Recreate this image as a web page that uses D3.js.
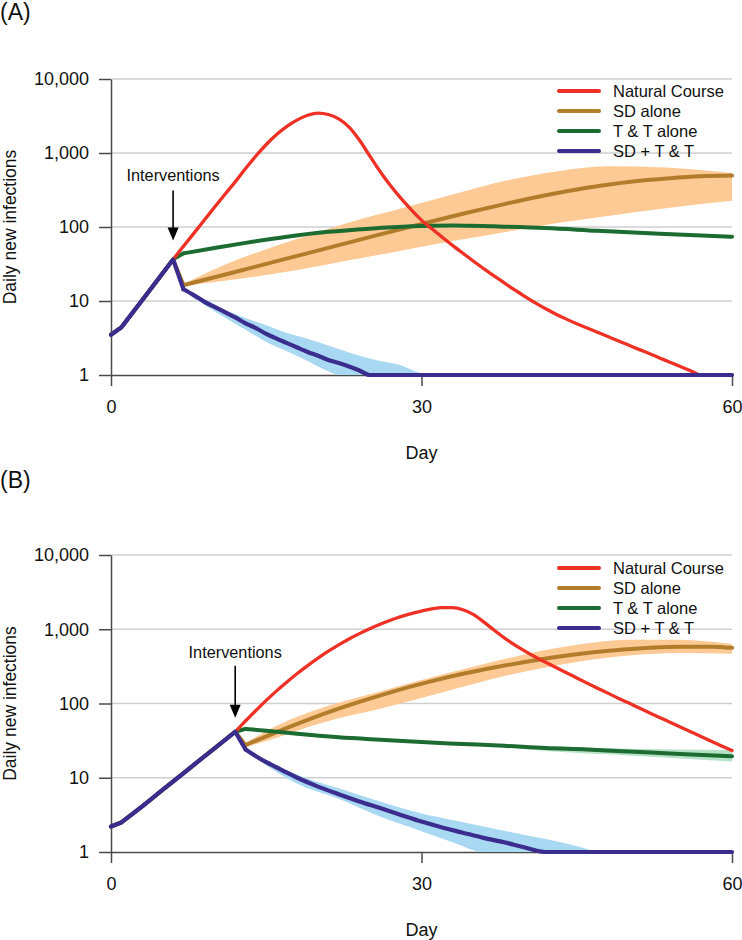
<!DOCTYPE html>
<html><head><meta charset="utf-8">
<script src="https://cdn.jsdelivr.net/npm/d3@7"></script>
<style>
body{margin:0;background:#fff}
svg{display:block}
text{font-family:"Liberation Sans",Arial,Helvetica,sans-serif;fill:#111}
</style>
</head><body>
<svg id="chart" width="742" height="940"></svg>
<script>
// ---------- shared labels ----------
const dayTicks = [0, 30, 60];
const yTicks = [1, 10, 100, 1000, 10000];
const gridValues = [10, 100, 1000, 10000];
const seriesNames = ["Natural Course", "SD alone", "T & T alone", "SD + T & T"];
const seriesColors = ["#EE3124", "#B27D2A", "#1C6B30", "#3B2D8E"];
const bandColors = ["#FDCA96", "#B6E2C8", "#A9D9F2"]; // SD alone, T&T alone, SD+T&T
const panelLabels = ["(A)", "(B)"];
const annotationText = "Interventions";
const xTitle = "Day";
const yTitle = "Daily new infections";
const interventionDays = [6, 12];

// ---------- Panel A data ----------
const aEarly = [[0,3.5],[1,4.4],[2,6.7],[3,10.2],[4,15.6],[5,23.8],[6,36.5]];
const aNatural = [[7,55],[8,82],[9,123],[10,185],[11,275],[12,407],[13,617],[14,912],[15,1303],[16,1778],[17,2291],[18,2800],[19,3236],[20,3467],[21,3311],[22,2884],[23,2239],[24,1496],[25,912],[26,562],[27,363],[28,245],[29,172],[30,124],[31,94.4],[32,72.8],[33,56.5],[34,44.2],[35,34.7],[36,27.4],[37,21.9],[38,17.6],[39,14.1],[40,11.5],[41,9.44],[42,7.85],[43,6.64],[44,5.69],[45,4.92],[46,4.31],[47,3.78],[48,3.31],[49,2.90],[50,2.54],[51,2.22],[52,1.95],[53,1.70],[54,1.49],[55,1.30],[56,1.14],[57,1],[60,1]];
const aSD = [[7,16.4],[10,20.9],[14,29.2],[18,40.7],[22,56.9],[26,79.4],[30,110],[34,151],[38,204],[42,269],[46,339],[50,407],[54,457],[57,484],[60,495]];
const aTT = [[7,44],[10,52],[13,61],[17,74],[21,86],[25,95],[29,102],[33,105],[37,102],[42,97],[47,89],[53,81],[60,74]];
const aBoth = [[7,14.4],[8,12.0],[9,9.8],[10,8.3],[11,7.1],[12,6.0],[13,5.0],[14,4.3],[15,3.6],[16,3.1],[17,2.7],[18,2.35],[19,2.05],[20,1.82],[21,1.6],[22,1.45],[23,1.3],[24,1.15],[25,1],[60,1]];
// bands: [day, low, high]
const aSDBand = [[7,15.8,17.0],[10,18.0,26.9],[13,20.4,39.8],[18,26.3,69.2],[23,35.5,115],[28,47.9,178],[33,64.6,275],[38,85.1,417],[43,112,562],[48,141,661],[54,182,631],[60,226,537]];
const aTTBand = [[7,43,45],[13,60,63],[21,84,89],[29,99,105],[37,98,104],[47,85,92],[60,70,77]];
const aBothBand = [[7,13.8,14.8],[9,8.9,10.7],[11,6.0,7.6],[13,4.1,5.9],[15,2.8,4.7],[17,2.1,3.7],[19,1.55,3.1],[21,1.12,2.5],[22,1,2.24],[24,1,1.82],[26,1,1.55],[28,1,1.35],[30,1,1.05],[31,1,1]];

// ---------- Panel B data ----------
const bEarly = [[0,2.2],[1,2.5],[2,3.2],[3,4.1],[4,5.3],[5,6.9],[6,8.9],[7,11.5],[8,14.9],[9,19.3],[10,24.9],[11,32.2],[12,41.6]];
const bNatural = [[13,58.2],[14,80.5],[15,110],[16,148],[17,195],[18,254],[19,324],[20,408],[21,506],[22,617],[23,740],[24,873],[25,1016],[26,1167],[27,1321],[28,1476],[29,1622],[30,1758],[31,1884],[32,1959],[33,1950],[34,1828],[35,1585],[36,1259],[37,977],[38,767],[39,617],[40,507],[41,422],[42,359],[43,305],[44,260],[45,221],[46,188],[47,161],[48,138],[49,118],[50,102],[51,87.5],[52,75.3],[53,64.9],[54,56.0],[55,48.3],[56,41.7],[57,36.0],[58,31.0],[59,26.8],[60,23.2]];
const bSD = [[13,27.5],[16,41.2],[19,60.3],[22,85.1],[25,116],[28,155],[31,200],[34,251],[37,305],[40,363],[43,422],[46,479],[49,525],[52,562],[55,582],[58,582],[60,562]];
const bTT = [[13,45.5],[15,43],[18,39],[22,35],[26,32.4],[30,30.2],[34,28.5],[38,26.9],[42,25.1],[46,24],[50,22.6],[55,20.9],[60,19.5]];
const bBoth = [[13,24],[14,19.5],[15,16.2],[16,13.8],[17,11.7],[18,10],[20,7.6],[22,6.0],[24,4.8],[26,3.9],[28,3.16],[30,2.57],[32,2.14],[34,1.82],[36,1.55],[38,1.35],[40,1.15],[42,1],[60,1]];
const bSDBand = [[13,25.7,29.5],[16,34.7,50.1],[19,47.9,75],[22,63.1,102],[26,85.1,145],[32,141,245],[39,251,427],[45,363,617],[50,442,724],[55,479,724],[60,468,631]];
const bTTBand = [[13,44.5,46.5],[22,34.2,35.8],[30,29.3,31],[38,25.7,27.8],[42,22.9,26.5],[50,20,24.5],[60,16.6,23.7]];
const bBothBand = [[13,23,25],[18,8.3,11],[22,5.2,7.2],[26,3.0,4.8],[30,1.9,3.3],[33,1.35,2.7],[36,1,2.2],[40,1,1.7],[44,1,1.3],[47,1,1]];

// ---------- layout ----------
const svg = d3.select("#chart");
const X0 = 111, X1 = 732;
const x = d3.scaleLinear().domain([0, 60]).range([X0, X1]);

const panels = [
  {label: panelLabels[0], top: 79, bottom: 375, labelY: 20, early: aEarly,
   lines: [aNatural, aSD, aTT, aBoth], bands: [aSDBand, aTTBand, aBothBand],
   day: interventionDays[0], arrowGap: 19, arrowLen: 50, textGap: 15, legendTop: 91},
  {label: panelLabels[1], top: 555, bottom: 852, labelY: 488, early: bEarly,
   lines: [bNatural, bSD, bTT, bBoth], bands: [bSDBand, bTTBand, bBothBand],
   day: interventionDays[1], arrowGap: 14, arrowLen: 52, textGap: 14, legendTop: 568}
];

const lineWidths = [3.3, 4, 4, 4.2];

panels.forEach(p => {
  const y = d3.scaleLog().domain([1, 10000]).range([p.bottom, p.top]);
  const g = svg.append("g");

  // panel label
  g.append("text").attr("x", 0).attr("y", p.labelY)
    .attr("font-size", 23).text(p.label);

  // gridlines
  g.append("g").selectAll("line").data(gridValues).join("line")
    .attr("x1", X0).attr("x2", X1)
    .attr("y1", d => y(d)).attr("y2", d => y(d))
    .attr("stroke", "#cfcfcf").attr("stroke-width", 1.5);

  // axes
  const ya = g.append("g").attr("transform", `translate(${X0},0)`)
    .call(d3.axisLeft(y).tickValues(yTicks).tickFormat(d3.format(","))
      .tickSize(12).tickSizeOuter(0).tickPadding(10));
  const xa = g.append("g").attr("transform", `translate(0,${p.bottom})`)
    .call(d3.axisBottom(x).tickValues(dayTicks).tickFormat(d3.format("d"))
      .tickSize(11).tickSizeOuter(0).tickPadding(14));
  [ya, xa].forEach(a => {
    a.selectAll(".domain").attr("stroke", "#4a4a4a").attr("stroke-width", 1.5);
    a.selectAll(".tick line").attr("stroke", "#4a4a4a").attr("stroke-width", 1.5);
    a.selectAll(".tick text").attr("font-size", 18).attr("fill", "#111")
      .attr("font-family", "Liberation Sans, Arial, Helvetica, sans-serif");
  });

  // titles
  g.append("text").attr("transform", `translate(15.5,${(p.top + p.bottom) / 2}) rotate(-90)`)
    .attr("text-anchor", "middle").attr("font-size", 17.5).text(yTitle);
  g.append("text").attr("x", x(30)).attr("y", p.bottom + 83.5)
    .attr("text-anchor", "middle").attr("font-size", 18).text(xTitle);

  // bands
  const area = d3.area().x(d => x(d[0])).y0(d => y(d[1])).y1(d => y(d[2]))
    .curve(d3.curveMonotoneX);
  p.bands.forEach((b, i) => {
    g.append("path").attr("d", area(b)).attr("fill", bandColors[i]).attr("stroke", "none");
  });

  // lines: draw order SD alone, T&T alone, Natural, SD+T&T
  const lin = d3.line().x(d => x(d[0])).y(d => y(d[1])).curve(d3.curveLinear);
  const mono = d3.line().x(d => x(d[0])).y(d => y(d[1])).curve(d3.curveMonotoneX);
  [1, 2, 0, 3].forEach(i => {
    const s = p.lines[i];
    const head = p.early.concat([s[0]]);
    const style = sel => sel.attr("fill", "none").attr("stroke", seriesColors[i])
      .attr("stroke-width", lineWidths[i]).attr("stroke-linejoin", "round")
      .attr("stroke-linecap", "round");
    g.append("path").attr("d", lin(head)).call(style);
    g.append("path").attr("d", mono(s)).call(style);
  });

  // intervention annotation
  const jx = x(p.day);
  const jv = p.early[p.early.length - 1][1];
  const tip = y(jv) - p.arrowGap;
  const topA = tip - p.arrowLen;
  g.append("line").attr("x1", jx).attr("x2", jx).attr("y1", topA).attr("y2", tip - 8)
    .attr("stroke", "#000").attr("stroke-width", 1.6);
  g.append("path").attr("d", `M${jx - 5.5},${tip - 13} L${jx + 5.5},${tip - 13} L${jx},${tip} Z`)
    .attr("fill", "#000");
  g.append("text").attr("x", jx).attr("y", topA - p.textGap + 6)
    .attr("text-anchor", "middle").attr("font-size", 16.3).text(annotationText);

  // legend
  const lg = g.append("g");
  seriesNames.forEach((name, i) => {
    const ly = p.legendTop + i * 20;
    lg.append("line").attr("x1", 559).attr("x2", 599).attr("y1", ly).attr("y2", ly)
      .attr("stroke", seriesColors[i]).attr("stroke-width", 4).attr("stroke-linecap", "round");
    lg.append("text").attr("x", 613).attr("y", ly + 6).attr("font-size", 16.5).text(name);
  });
});
</script>
</body></html>
